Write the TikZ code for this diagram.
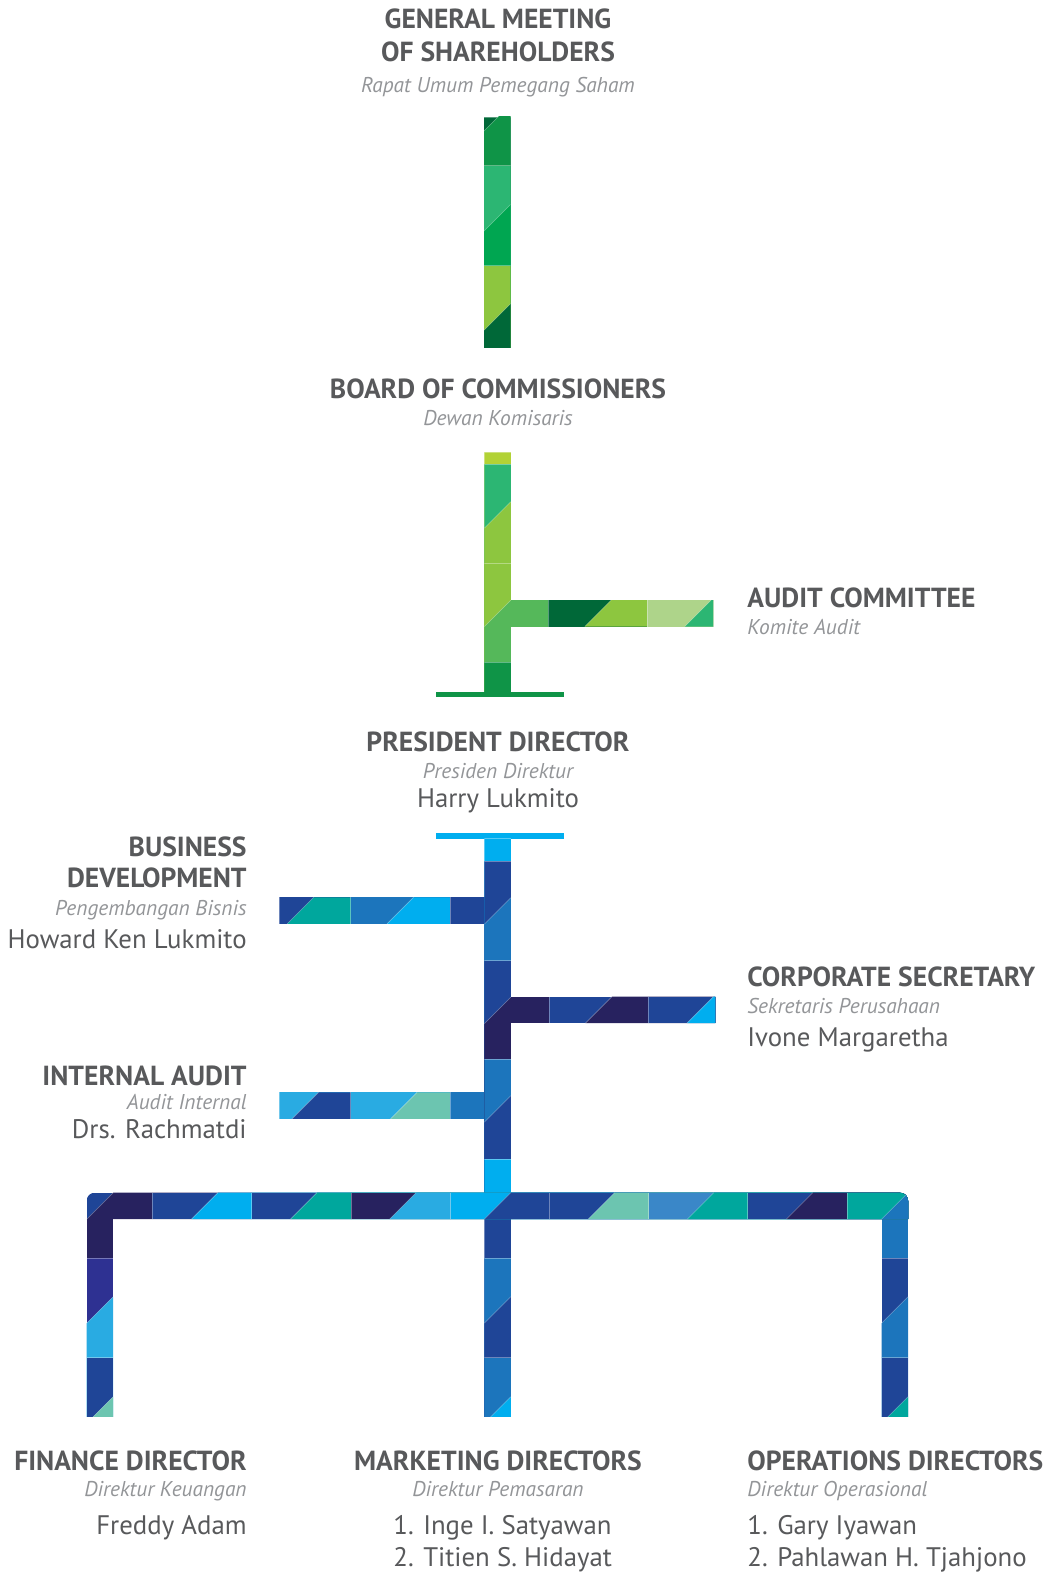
\documentclass[tikz,border=0pt]{standalone}
\usepackage{fontspec}
\setmainfont{PT Sans}
\usepackage{tikz}

\definecolor{ink}{HTML}{58595B}
\definecolor{mist}{HTML}{939598}
% greens
\definecolor{gDeep}{HTML}{006838}
\definecolor{gForest}{HTML}{0F9447}
\definecolor{gJade}{HTML}{2CB673}
\definecolor{gKelly}{HTML}{00A651}
\definecolor{gLime}{HTML}{8DC63F}
\definecolor{gChart}{HTML}{B2D235}
\definecolor{gMoss}{HTML}{55B85A}
\definecolor{gPale}{HTML}{AED48A}
% blues
\definecolor{bSky}{HTML}{00AEEF}
\definecolor{bRoyal}{HTML}{1F4597}
\definecolor{bMid}{HTML}{1C75BC}
\definecolor{bNavy}{HTML}{27225F}
\definecolor{bTeal}{HTML}{00A79D}
\definecolor{bLight}{HTML}{29ABE2}
\definecolor{bMint}{HTML}{6CC5B0}
\definecolor{bIndigo}{HTML}{2E3192}
\definecolor{bSteel}{HTML}{3A87C8}

\def\bw{26.5}
\def\hw{13.25}

% vertical stripe: left x, top y, bottom y, list of cut/kind/colour
\newcommand{\vstripe}[4]{%
  \begin{scope}
    \clip (#1,#2) rectangle ({#1+\bw},#3);
    \foreach \pos/\cut/\tone in {#4}{
      \fill[\tone] (#1,{\pos+\hw*\cut}) -- ({#1+\bw},{\pos-\hw*\cut}) -- ({#1+\bw},{#3+40}) -- (#1,{#3+40}) -- cycle;
      \draw[sep] (#1,{\pos+\hw*\cut}) -- ({#1+\bw},{\pos-\hw*\cut});
    }
  \end{scope}}

% horizontal stripe: [clip options] top y, left x, right x, list of cut/kind/colour
\newcommand{\hstripe}[5][]{%
  \begin{scope}
    \clip[#1] (#3,{#2+\bw}) -- (#3,#2) -- (#4,#2) -- (#4,{#2+\bw});
    \foreach \pos/\cut/\tone in {#5}{
      \fill[\tone] ({\pos-\hw*\cut},{#2+\bw}) -- ({\pos+\hw*\cut},#2) -- ({#4+40},#2) -- ({#4+40},{#2+\bw}) -- cycle;
      \draw[sep] ({\pos-\hw*\cut},{#2+\bw}) -- ({\pos+\hw*\cut},#2);
    }
  \end{scope}}

\begin{document}
\begin{tikzpicture}[x=0.5pt,y=-0.5pt]
    \tikzstyle{head} = [font=\bfseries\fontsize{13.8}{16}\selectfont, text=ink, inner sep=0pt]
    \tikzstyle{sub} = [font=\itshape\fontsize{10.7}{13}\selectfont, text=mist, inner sep=0pt]
    \tikzstyle{who} = [font=\fontsize{13.4}{16}\selectfont, text=ink, inner sep=0pt]
    \tikzstyle{sep} = [white, opacity=0.35, line width=0.3pt]
    \useasboundingbox (0,0) rectangle (1051,1573);

    % shareholders and commissioners
    \node (gms1) [head, anchor=base] at (498,28.3) {GENERAL MEETING};
    \node (gms2) [head, anchor=base] at (498,61.7) {OF SHAREHOLDERS};
    \node (gmssub) [sub, anchor=base] at (498,92.7) {Rapat Umum Pemegang Saham};
    \node (boc) [head, anchor=base] at (498,398) {BOARD OF COMMISSIONERS};
    \node (bocsub) [sub, anchor=base] at (498,425) {Dewan Komisaris};
    \node (ac) [head, anchor=base west] at (747,607.3) {AUDIT COMMITTEE};
    \node (acsub) [sub, anchor=base west] at (747,634) {Komite Audit};

    % directors
    \node (pd) [head, anchor=base] at (498,751) {PRESIDENT DIRECTOR};
    \node (pdsub) [sub, anchor=base] at (498,778) {Presiden Direktur};
    \node (pdname) [who, anchor=base] at (498,807) {Harry Lukmito};
    \node (bd1) [head, anchor=base east] at (247,856.7) {BUSINESS};
    \node (bd2) [head, anchor=base east] at (247,887.7) {DEVELOPMENT};
    \node (bdsub) [sub, anchor=base east] at (247,915) {Pengembangan Bisnis};
    \node (bdname) [who, anchor=base east] at (247,948.3) {Howard Ken Lukmito};
    \node (cs) [head, anchor=base west] at (747,986.5) {CORPORATE SECRETARY};
    \node (cssub) [sub, anchor=base west] at (747,1013) {Sekretaris Perusahaan};
    \node (csname) [who, anchor=base west] at (747,1046) {Ivone Margaretha};
    \node (ia) [head, anchor=base east] at (247,1085) {INTERNAL AUDIT};
    \node (iasub) [sub, anchor=base east] at (247,1109) {Audit Internal};
    \node (ianame) [who, anchor=base east] at (247,1138) {Drs. Rachmatdi};
    \node (fd) [head, anchor=base east] at (247,1470) {FINANCE DIRECTOR};
    \node (fdsub) [sub, anchor=base east] at (247,1496) {Direktur Keuangan};
    \node (fdname) [who, anchor=base east] at (247,1534) {Freddy Adam};
    \node (md) [head, anchor=base] at (498,1470) {MARKETING DIRECTORS};
    \node (mdsub) [sub, anchor=base] at (498,1496) {Direktur Pemasaran};
    \node (mdname1) [who, anchor=base west] at (393,1534) {1. Inge I. Satyawan};
    \node (mdname2) [who, anchor=base west] at (393,1566) {2. Titien S. Hidayat};
    \node (od) [head, anchor=base west] at (747,1470) {OPERATIONS DIRECTORS};
    \node (odsub) [sub, anchor=base west] at (747,1496) {Direktur Operasional};
    \node (odname1) [who, anchor=base west] at (747,1534) {1. Gary Iyawan};
    \node (odname2) [who, anchor=base west] at (747,1566) {2. Pahlawan H. Tjahjono};

    % green stripes
    \vstripe{484}{117}{347}{117/0/gDeep, 117.7/1/gForest, 165.7/0/gJade, 217.8/1/gKelly, 265.7/0/gLime, 317/1/gDeep}
    \hstripe{600}{500}{713}{500/0/gMoss, 548/0/gDeep, 598/1/gLime, 647/0/gPale, 698/1/gJade}
    \vstripe{484.3}{452}{692}{452/0/gChart, 464/0/gJade, 515/1/gLime, 563/0/gLime, 613.5/1/gMoss, 662/0/gForest}
    \fill[gForest] (436,692) rectangle (564,697);

    % blue stripes
    \fill[bSky] (436,833.3) rectangle (564,838.7);
    \hstripe{897.3}{279}{490}{279/0/bRoyal, 300.5/1/bTeal, 350.7/0/bMid, 400.3/1/bSky, 450/0/bRoyal}
    \hstripe{1092.3}{279}{490}{279/0/bLight, 305.3/1/bRoyal, 350.7/0/bLight, 403.8/1/bMint, 450/0/bMid}
    \hstripe{996.7}{500}{715.3}{500/0/bNavy, 549/0/bRoyal, 598.7/1/bNavy, 648.3/0/bRoyal, 700.2/1/bSky}
    \vstripe{484.3}{838.7}{1200}{838.7/0/bSky, 861.3/0/bRoyal, 911/1/bMid, 960.7/0/bRoyal, 1010.5/1/bNavy, 1059.3/0/bMid, 1109/1/bRoyal, 1159/0/bSky}
    \vstripe{86.7}{1210}{1416.7}{1210/0/bNavy, 1258.3/0/bIndigo, 1310/1/bLight, 1357.5/0/bRoyal, 1410/1/bMint}
    \vstripe{484.3}{1210}{1416.7}{1210/0/bRoyal, 1258.3/0/bMid, 1310/1/bRoyal, 1357.5/0/bMid, 1410/1/bSky}
    \vstripe{881.5}{1210}{1416.7}{1210/0/bMid, 1258.3/0/bRoyal, 1310/1/bMid, 1357.5/0/bRoyal, 1410/1/bTeal}
    \hstripe[rounded corners=4pt]{1192.7}{86.7}{908}{86.7/0/bRoyal, 100/1/bNavy, 152.3/0/bRoyal, 204.7/1/bSky, 251.7/0/bRoyal, 303.7/1/bTeal, 351/0/bNavy, 402.8/1/bLight, 450.7/0/bSky, 497.5/1/bRoyal, 549.3/0/bRoyal, 601.3/1/bMint, 648.7/0/bSteel, 700.5/1/bTeal, 747.7/0/bRoyal, 799.5/1/bNavy, 847/0/bTeal, 894.8/1/bMid}
\end{tikzpicture}
\end{document}
